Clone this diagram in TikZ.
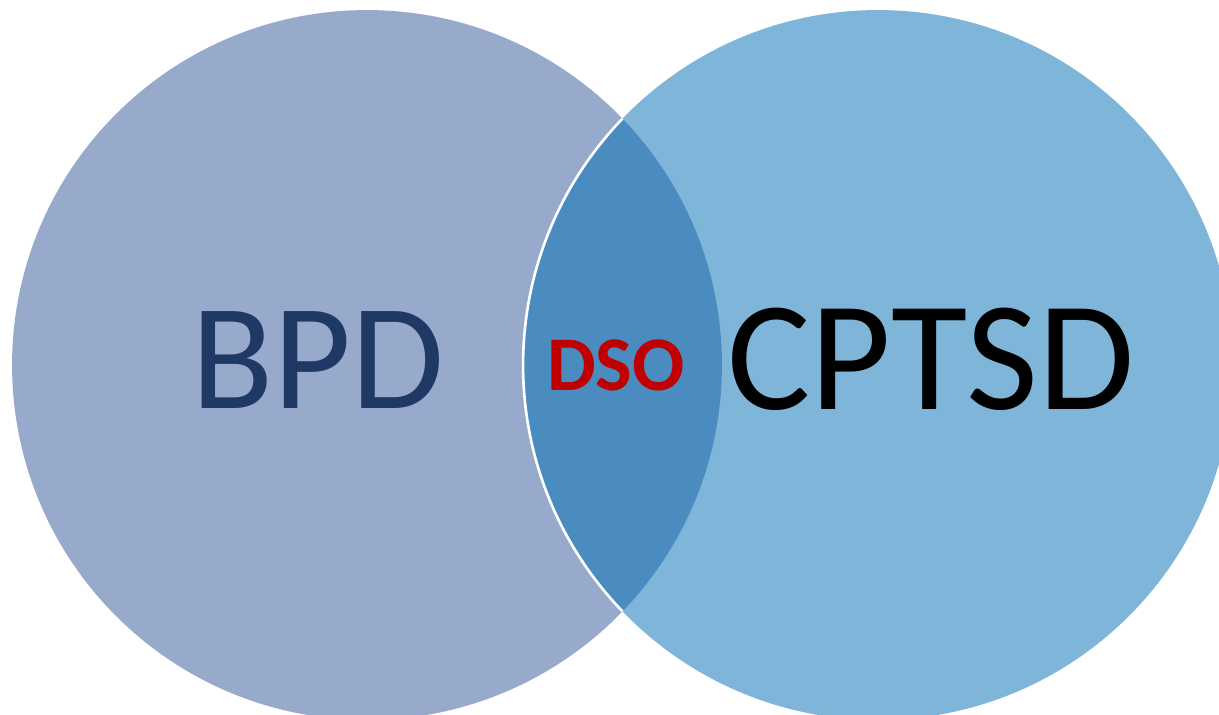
\documentclass[tikz,border=0pt]{standalone}
\usepackage{fontspec}
\setmainfont{Carlito}
\usepackage{tikz}
\definecolor{BpdFill}{RGB}{151, 170, 203}
\definecolor{CptsdFill}{RGB}{127, 181, 216}
\definecolor{LensFill}{RGB}{74, 140, 191}
\definecolor{BpdText}{RGB}{31, 56, 100}
\definecolor{DsoRed}{RGB}{192, 0, 0}

\begin{document}
\begin{tikzpicture}[
            x=0.02cm, y=-0.02cm,
            label/.style={inner sep=0pt, anchor=base},
            bigtext/.style={label, font=\fontsize{86}{90}\selectfont},
            smalltext/.style={label, font=\fontsize{44}{48}\selectfont\bfseries, text=DsoRed}
        ]
        \useasboundingbox (0, 0) rectangle (1219, 714);
        \clip (0, 0) rectangle (1219, 714);

        % --- KOLA ---
        \coordinate (bpd) at (367, 365);
        \coordinate (cptsd) at (878, 365);
        \fill[BpdFill] (bpd) circle[radius=7.1cm];
        \fill[CptsdFill] (cptsd) circle[radius=7.1cm];

        % --- CZESC WSPOLNA ---
        \begin{scope}
            \clip (bpd) circle[radius=7.1cm];
            \fill[LensFill] (cptsd) circle[radius=7.1cm];
            \draw[white, line width=1.5pt] (cptsd) circle[radius=7.1cm];
        \end{scope}

        % --- ETYKIETY ---
        \node[bigtext, text=BpdText] (bpdlabel) at (318, 408) {BPD};
        \node[bigtext, text=black, font=\fontsize{89}{93}\selectfont] (cptsdlabel) at (931, 409) {CPTSD};
        \node[smalltext] (dsolabel) at (616, 390) {DSO};

        \end{tikzpicture}
\end{document}
